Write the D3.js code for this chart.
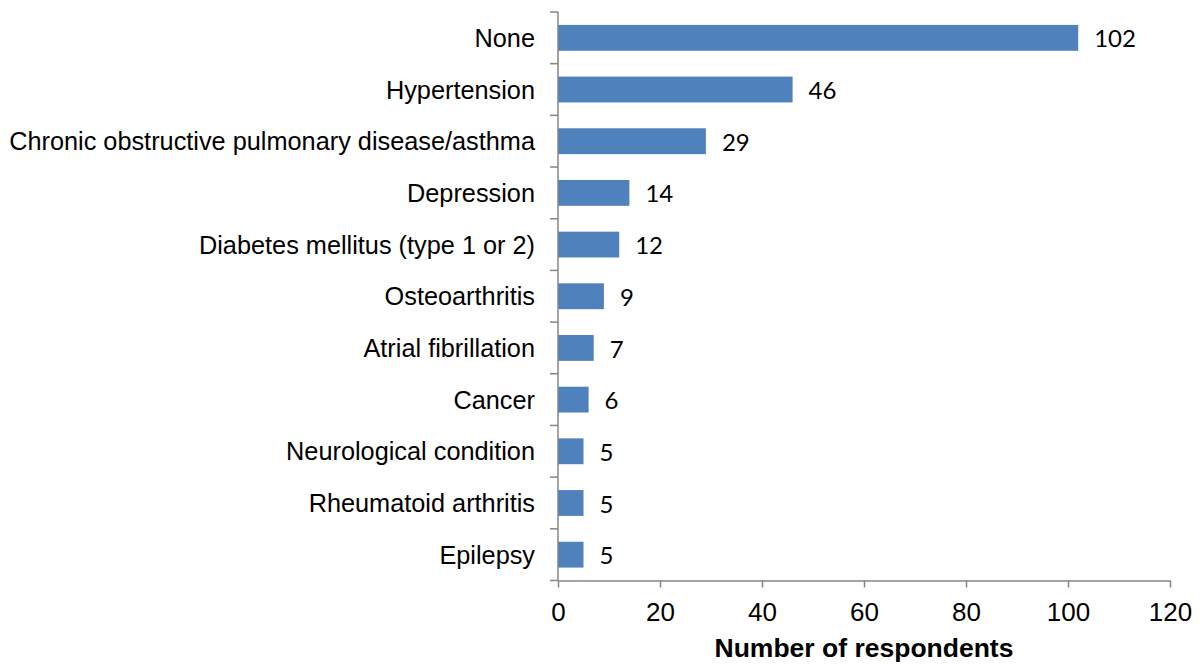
<!DOCTYPE html>
<html>
<head>
<meta charset="utf-8">
<script src="https://cdn.jsdelivr.net/npm/d3@7"></script>
<style>
  body { margin: 0; background: #fff; }
</style>
</head>
<body>
<div id="chart"></div>
<script>
// conditions reported by respondents
var conditions = ["None", "Hypertension", "Chronic obstructive pulmonary disease/asthma",
  "Depression", "Diabetes mellitus (type 1 or 2)", "Osteoarthritis", "Atrial fibrillation",
  "Cancer", "Neurological condition", "Rheumatoid arthritis", "Epilepsy"];
var counts = [102, 46, 29, 14, 12, 9, 7, 6, 5, 5, 5];
var xTicks = [0, 20, 40, 60, 80, 100, 120];

var W = 1201, H = 664;
var plotLeft = 558, plotRight = 1170, plotTop = 12, plotBottom = 580.5;

var svg = d3.select("#chart").append("svg")
  .attr("width", W)
  .attr("height", H);

var x = d3.scaleLinear().domain([0, 120]).range([plotLeft, plotRight]);
var y = d3.scaleBand().domain(conditions).range([plotTop, plotBottom]).paddingInner(0.5).paddingOuter(0.25);

var axisColor = "#868686";
var labelFont = "'Liberation Sans', Arial, sans-serif";

// bars
svg.selectAll("rect.bar")
  .data(counts)
  .enter().append("rect")
  .attr("class", "bar")
  .attr("x", x(0))
  .attr("y", (d, i) => y(conditions[i]))
  .attr("width", d => x(d) - x(0))
  .attr("height", y.bandwidth())
  .attr("fill", "#4f81bd");

// value labels
svg.selectAll("text.val")
  .data(counts)
  .enter().append("text")
  .attr("class", "val")
  .attr("x", d => x(d) + 16)
  .attr("y", (d, i) => y(conditions[i]) + y.bandwidth() / 2)
  .attr("dy", "0.4em")
  .style("font-family", "Lato, 'Open Sans', sans-serif")
  .style("font-size", "24px")
  .attr("fill", "#000")
  .text(d => d);

// y axis line + ticks at band boundaries
var step = (plotBottom - plotTop) / conditions.length;
svg.append("line")
  .attr("x1", plotLeft).attr("x2", plotLeft)
  .attr("y1", plotTop).attr("y2", plotBottom)
  .attr("stroke", axisColor).attr("stroke-width", 1.5);
svg.selectAll("line.ytick")
  .data(d3.range(conditions.length + 1))
  .enter().append("line")
  .attr("class", "ytick")
  .attr("x1", plotLeft - 8).attr("x2", plotLeft)
  .attr("y1", i => plotTop + i * step).attr("y2", i => plotTop + i * step)
  .attr("stroke", axisColor).attr("stroke-width", 1.5);

// category labels
svg.selectAll("text.cat")
  .data(conditions)
  .enter().append("text")
  .attr("class", "cat")
  .attr("x", 535)
  .attr("y", d => y(d) + y.bandwidth() / 2)
  .attr("dy", "0.36em")
  .attr("text-anchor", "end")
  .style("font-family", labelFont)
  .style("font-size", "25.3px")
  .attr("fill", "#000")
  .text(d => d);

// x axis
var xAxis = svg.append("g")
  .attr("transform", "translate(0," + plotBottom + ")")
  .call(d3.axisBottom(x).tickValues(xTicks).tickSize(7).tickPadding(15).tickSizeOuter(0));
xAxis.select(".domain").attr("stroke", axisColor).attr("stroke-width", 1.5);
xAxis.selectAll(".tick line").attr("stroke", axisColor).attr("stroke-width", 1.5);
xAxis.selectAll(".tick text")
  .style("font-family", labelFont)
  .style("font-size", "26px")
  .attr("fill", "#000");

// axis title
svg.append("text")
  .attr("x", 864)
  .attr("y", 657)
  .attr("text-anchor", "middle")
  .style("font-family", labelFont)
  .style("font-size", "26.5px")
  .style("font-weight", "bold")
  .text("Number of respondents");
</script>
</body>
</html>
